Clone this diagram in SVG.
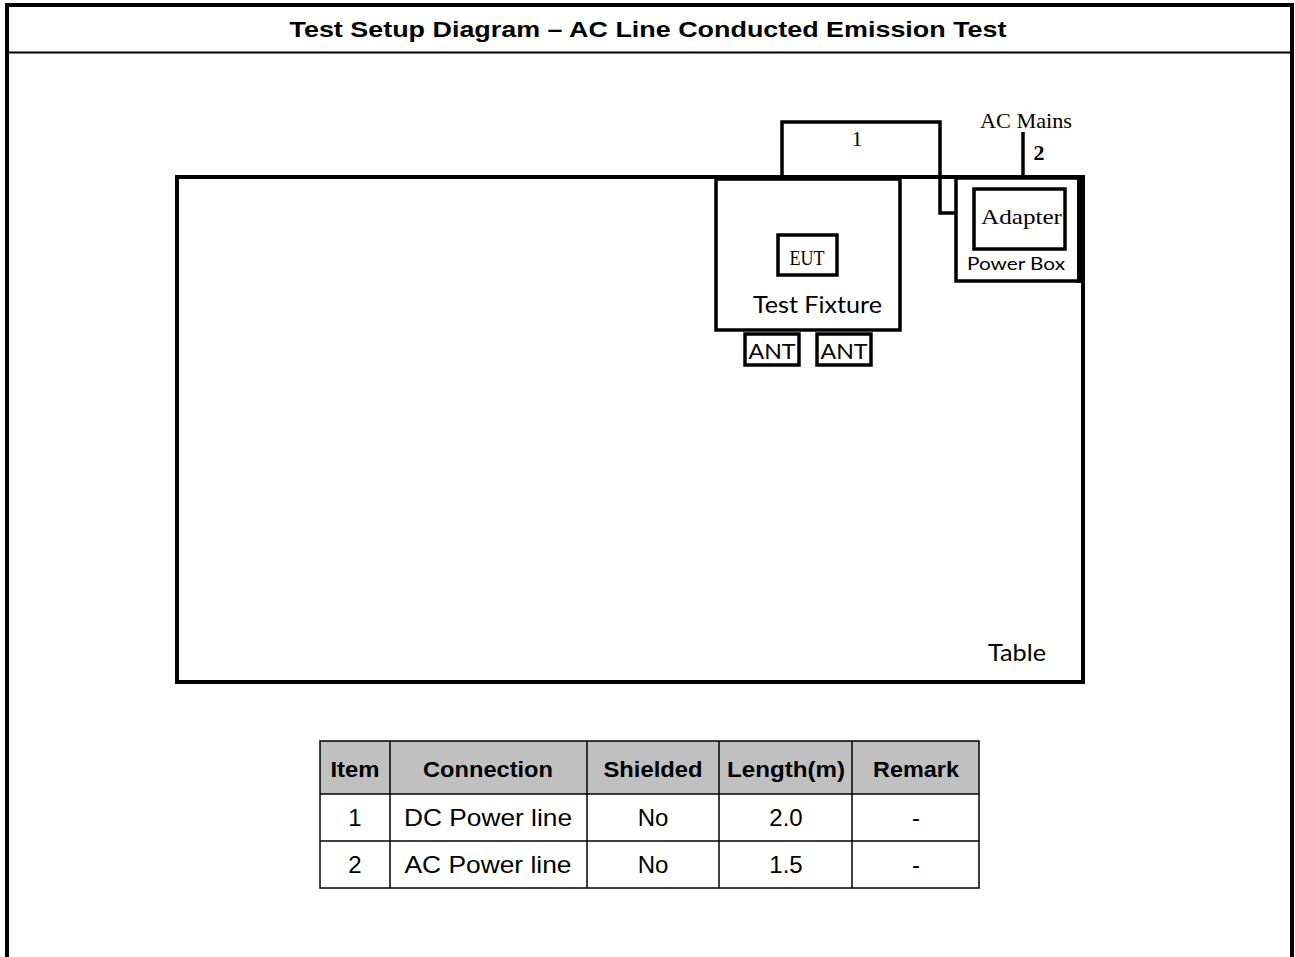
<svg xmlns="http://www.w3.org/2000/svg" width="1295" height="957" viewBox="0 0 1295 957">
<style>
.frame{fill:none;stroke:#000;}
.box{fill:#fff;stroke:#000;stroke-width:3.5;}
.wire{fill:none;stroke:#000;stroke-width:3.5;}
.cal{font-family:Lato,"Open Sans",sans-serif;fill:#000;}
.sim{font-family:"Liberation Serif",serif;fill:#000;}
.arb{font-family:"Liberation Sans",Arial,sans-serif;fill:#000;}
.cell{fill:none;stroke:#000;stroke-width:1.5;}
</style>
<g id="frame">
<line x1="7" y1="3" x2="7" y2="957" stroke="#000" stroke-width="4"/>
<line x1="1292" y1="3" x2="1292" y2="957" stroke="#000" stroke-width="4"/>
<line x1="5" y1="5" x2="1294" y2="5" stroke="#000" stroke-width="4"/>
<line x1="7" y1="52.5" x2="1292" y2="52.5" stroke="#000" stroke-width="2"/>
<text class="arb" x="648" y="37" font-size="22" font-weight="bold" text-anchor="middle" textLength="717" lengthAdjust="spacingAndGlyphs">Test Setup Diagram – AC Line Conducted Emission Test</text>
</g>
<g id="table-node">
<rect x="177" y="177" width="906" height="505" fill="#fff" stroke="#000" stroke-width="4"/>
<text class="cal" x="988" y="661" font-size="23" textLength="58" lengthAdjust="spacingAndGlyphs">Table</text>
</g>
<g id="connectors">
<path class="wire" d="M782 179 V122 H940 V213 H975"/>
<line class="wire" x1="1023" y1="132" x2="1023" y2="178"/>
<text class="sim" x="857" y="146" font-size="22" text-anchor="middle">1</text>
<text class="sim" x="1039" y="160" font-size="22" text-anchor="middle" font-weight="bold">2</text>
<text class="sim" x="980" y="128" font-size="22" textLength="92" lengthAdjust="spacingAndGlyphs">AC Mains</text>
</g>
<g id="power-box">
<rect class="box" x="956" y="178" width="125" height="103"/>
<line x1="1081" y1="176" x2="1081" y2="283" stroke="#000" stroke-width="8"/>
<text class="cal" x="967" y="270" font-size="18" textLength="98" lengthAdjust="spacingAndGlyphs">Power Box</text>
</g>
<g id="adapter">
<rect class="box" x="974" y="189" width="91" height="60"/>
<text class="sim" x="981" y="224" font-size="22" textLength="81" lengthAdjust="spacingAndGlyphs">Adapter</text>
</g>
<g id="test-fixture">
<rect class="box" x="716" y="179" width="184" height="151"/>
<text class="cal" x="753" y="313" font-size="23" textLength="129" lengthAdjust="spacingAndGlyphs">Test Fixture</text>
</g>
<g id="eut">
<rect class="box" x="778" y="235" width="59" height="40"/>
<text class="sim" x="807" y="265" font-size="22" text-anchor="middle" textLength="35" lengthAdjust="spacingAndGlyphs">EUT</text>
</g>
<g id="ant1">
<rect class="box" x="745" y="334" width="54" height="31"/>
<text class="cal" x="772" y="359" font-size="22" text-anchor="middle" textLength="47" lengthAdjust="spacingAndGlyphs">ANT</text>
</g>
<g id="ant2">
<rect class="box" x="817" y="334" width="54" height="31"/>
<text class="cal" x="844" y="359" font-size="22" text-anchor="middle" textLength="47" lengthAdjust="spacingAndGlyphs">ANT</text>
</g>
<g id="cable-table">
<rect x="320" y="741" width="659" height="53" fill="#c0c0c0"/>
<rect class="cell" x="320" y="741" width="659" height="147"/>
<line class="cell" x1="320" y1="794" x2="979" y2="794"/>
<line class="cell" x1="320" y1="841" x2="979" y2="841"/>
<line class="cell" x1="390" y1="741" x2="390" y2="888"/>
<line class="cell" x1="587" y1="741" x2="587" y2="888"/>
<line class="cell" x1="719" y1="741" x2="719" y2="888"/>
<line class="cell" x1="852" y1="741" x2="852" y2="888"/>
<g class="arb" font-size="22" font-weight="bold" text-anchor="middle">
<text x="355" y="777" textLength="49" lengthAdjust="spacingAndGlyphs">Item</text>
<text x="488" y="777" textLength="130" lengthAdjust="spacingAndGlyphs">Connection</text>
<text x="653" y="777" textLength="99" lengthAdjust="spacingAndGlyphs">Shielded</text>
<text x="786" y="777" textLength="118" lengthAdjust="spacingAndGlyphs">Length(m)</text>
<text x="916" y="777" textLength="86" lengthAdjust="spacingAndGlyphs">Remark</text>
</g>
<g class="arb" font-size="24" text-anchor="middle">
<text x="355" y="826">1</text>
<text x="488" y="826" textLength="168" lengthAdjust="spacingAndGlyphs">DC Power line</text>
<text x="653" y="826">No</text>
<text x="786" y="826">2.0</text>
<text x="916" y="826">-</text>
<text x="355" y="873">2</text>
<text x="488" y="873" textLength="167" lengthAdjust="spacingAndGlyphs">AC Power line</text>
<text x="653" y="873">No</text>
<text x="786" y="873">1.5</text>
<text x="916" y="873">-</text>
</g>
</g>
</svg>
